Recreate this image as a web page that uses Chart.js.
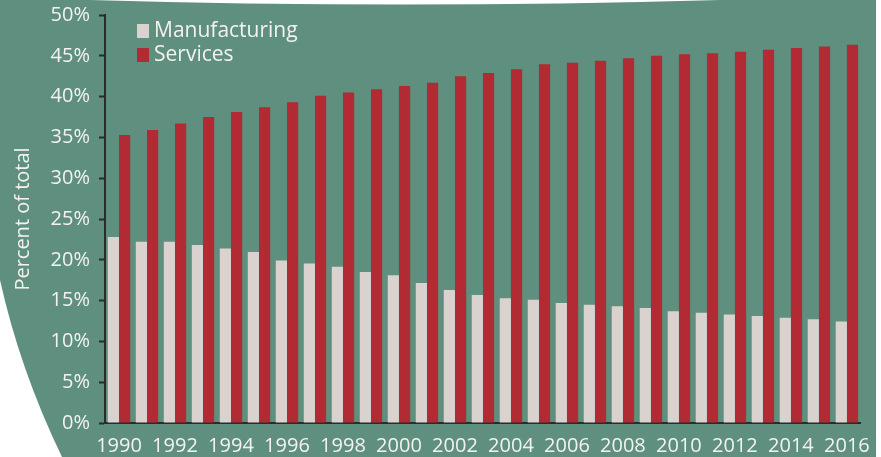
<!DOCTYPE html>
<html>
<head>
<meta charset="utf-8">
<title>Manufacturing and services, percent of total</title>
<script src="https://cdn.jsdelivr.net/npm/chart.js@4/dist/chart.umd.min.js"></script>
<style>
    html, body { margin: 0; padding: 0; background: #ffffff; }
    #chartBox { width: 881px; height: 457px; }
</style>
</head>
<body>
<div id="chartBox"><canvas id="sharesChart" width="881" height="457"></canvas></div>
<script>
////////////////////////////////////////////////////////////////////////
// Data
const years = [
    "1990", "1991", "1992", "1993", "1994", "1995", "1996", "1997", "1998",
    "1999", "2000", "2001", "2002", "2003", "2004", "2005", "2006", "2007",
    "2008", "2009", "2010", "2011", "2012", "2013", "2014", "2015", "2016"
]
const manufacturing = [
    22.8, 22.2, 22.2, 21.8, 21.4, 20.95, 19.9, 19.55, 19.15,
    18.5, 18.1, 17.15, 16.3, 15.7, 15.3, 15.1, 14.7, 14.5,
    14.3, 14.1, 13.7, 13.5, 13.3, 13.1, 12.9, 12.7, 12.45
]
const services = [
    35.3, 35.9, 36.7, 37.5, 38.1, 38.7, 39.3, 40.1, 40.5,
    40.9, 41.3, 41.7, 42.5, 42.9, 43.35, 43.95, 44.15, 44.4,
    44.7, 45.0, 45.2, 45.3, 45.5, 45.75, 45.95, 46.15, 46.35
]
const yTicks = { min: 0, max: 50, step: 5 }
const axisTitle = "Percent of total"

////////////////////////////////////////////////////////////////////////
// Styles
const panelGreen = "rgb(95, 143, 126)"
const textColor = "#f4f2ef"
const axisColor = "#2b2b2b"
const fontFamily = "'Open Sans', 'Noto Sans', sans-serif"

/**
 * Paints the green panel with its curved left and top edges.
 */
const panelPlugin = {
    id: "panel",
    beforeDraw(chart) {
        const ctx = chart.ctx
        const w = chart.width
        const h = chart.height
        ctx.save()
        ctx.fillStyle = "#ffffff"
        ctx.fillRect(0, 0, w, h)
        ctx.beginPath()
        ctx.moveTo(0, 0)
        ctx.lineTo(90, 0)
        ctx.quadraticCurveTo(400, 9, 720, 0)
        ctx.lineTo(876, 0)
        ctx.lineTo(876, h)
        ctx.lineTo(62, h)
        ctx.quadraticCurveTo(20, 370, 0, 280)
        ctx.closePath()
        ctx.fillStyle = panelGreen
        ctx.fill()
        ctx.restore()
    }
}

/**
 * Small legend drawn inside the top-left corner of the plot area.
 */
const cornerLegendPlugin = {
    id: "cornerLegend",
    afterDraw(chart) {
        const ctx = chart.ctx
        const area = chart.chartArea
        const x = area.left + 32
        let y = area.top + 16
        ctx.save()
        ctx.font = "21px " + fontFamily
        ctx.textBaseline = "middle"
        ctx.textAlign = "left"
        chart.data.datasets.forEach(ds => {
            ctx.fillStyle = ds.backgroundColor
            ctx.fillRect(x, y - 7, 12, 14)
            ctx.fillStyle = textColor
            ctx.fillText(ds.label, x + 17, y)
            y += 24
        })
        ctx.restore()
    }
}

////////////////////////////////////////////////////////////////////////
// Chart
const config = {
    type: "bar",
    data: {
        labels: years,
        datasets: [
            {
                label: "Manufacturing",
                backgroundColor: "rgb(217, 210, 206)",
                data: manufacturing,
                categoryPercentage: 0.8,
                barPercentage: 1.0
            },
            {
                label: "Services",
                backgroundColor: "rgb(178, 42, 51)",
                data: services,
                categoryPercentage: 0.8,
                barPercentage: 1.0
            }
        ]
    },
    options: {
        responsive: false,
        animation: false,
        layout: {
            padding: { left: 0, top: 15, right: 12, bottom: 0 }
        },
        plugins: {
            legend: { display: false },
            tooltip: { enabled: false }
        },
        scales: {
            x: {
                grid: {
                    display: true,
                    drawOnChartArea: false,
                    drawTicks: false
                },
                border: { color: axisColor, width: 2 },
                ticks: {
                    color: textColor,
                    font: { family: fontFamily, size: 20 },
                    padding: 11,
                    autoSkip: false,
                    maxRotation: 0,
                    callback: (value, index) => index % 2 === 0 ? years[index] : ""
                },
                afterFit: scale => { scale.height = 34 }
            },
            y: {
                min: yTicks.min,
                max: yTicks.max,
                grid: {
                    display: true,
                    drawOnChartArea: false,
                    drawTicks: true,
                    tickLength: 6,
                    tickWidth: 2,
                    tickColor: axisColor
                },
                border: { color: axisColor, width: 2 },
                ticks: {
                    stepSize: yTicks.step,
                    color: textColor,
                    font: { family: fontFamily, size: 20 },
                    padding: 9,
                    callback: value => value + "%"
                },
                title: {
                    display: true,
                    text: axisTitle,
                    color: textColor,
                    font: { family: fontFamily, size: 20 },
                    padding: { top: 11, bottom: 0 }
                },
                afterFit: scale => {
                    // fixed gutter; the top label may overhang the padding
                    scale.width = 105
                    scale.paddingTop = 0
                    scale.paddingBottom = 0
                }
            }
        }
    },
    plugins: [panelPlugin, cornerLegendPlugin]
}

new Chart(document.getElementById("sharesChart"), config)
</script>
</body>
</html>
